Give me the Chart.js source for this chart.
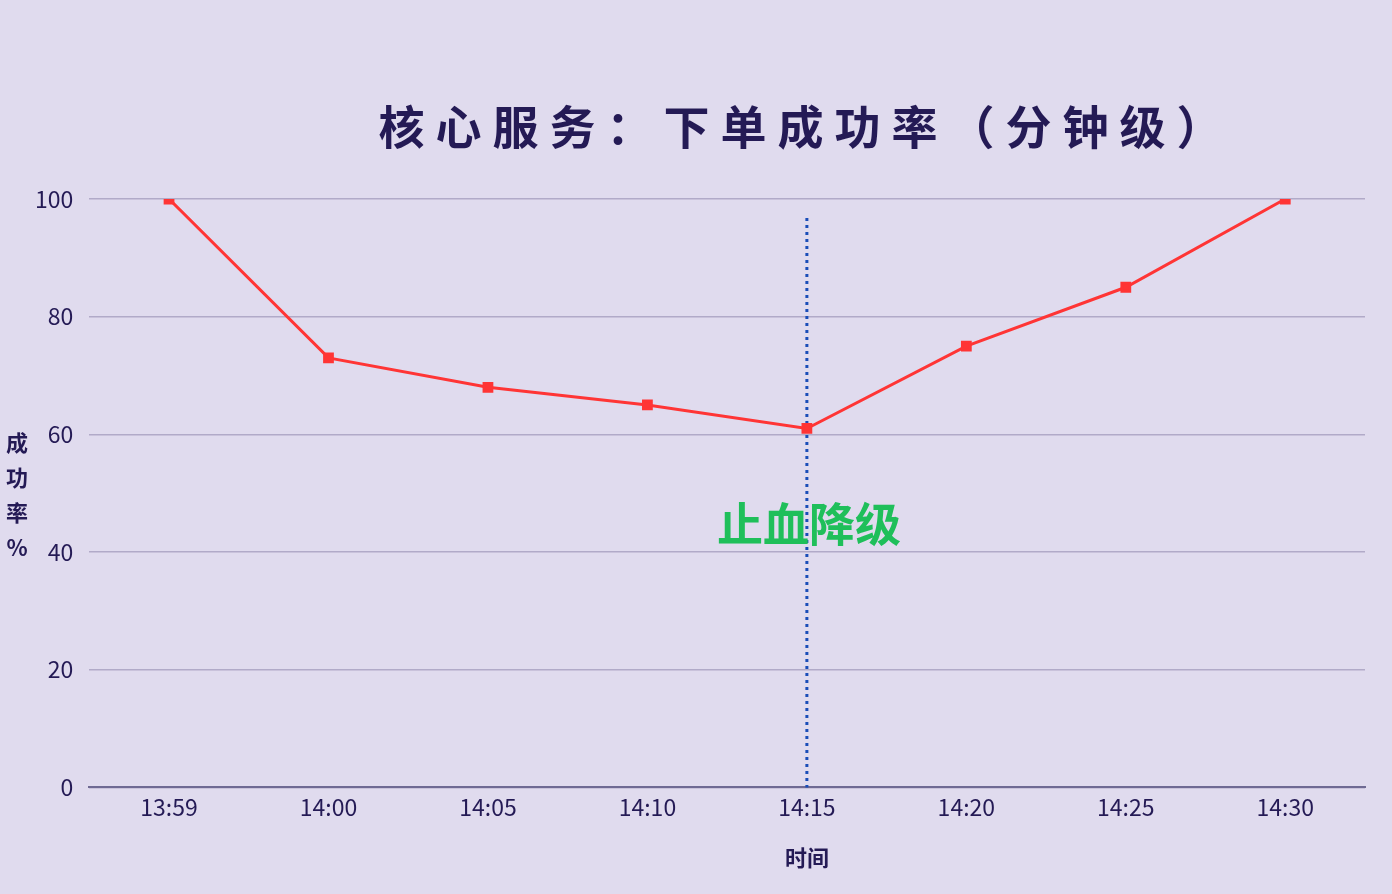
<!DOCTYPE html>
<html>
<head>
<meta charset="utf-8">
<script src="https://cdn.jsdelivr.net/npm/chart.js@4"></script>
<style>
  html, body { margin: 0; padding: 0; background: #e0dbee; }
  #wrap { width: 1392px; height: 894px; }
</style>
</head>
<body>
<div id="wrap"><canvas id="myChart" width="1392" height="894"></canvas></div>
<script>
// data
var times = ["13:59", "14:00", "14:05", "14:10", "14:15", "14:20", "14:25", "14:30"];
var successRate = [100, 73, 68, 65, 61, 75, 85, 100];
var yTicks = [0, 20, 40, 60, 80, 100];
var markTime = "14:15";
var markLabel = "止血降级";
var titleText = "核心服务：下单成功率（分钟级）";
var yTitle = ["成", "功", "率", "%"];
var xTitle = "时间";

var FONT = "'Noto Sans CJK SC', 'Noto Sans', sans-serif";
var INK = "#241a55";

// title, axis labels and the degradation marker
var extras = {
  id: "extras",
  beforeDatasetsDraw: function (chart) {
    var ctx = chart.ctx;
    var area = chart.chartArea;
    var x = chart.scales.x.getPixelForValue(times.indexOf(markTime));
    ctx.save();
    ctx.strokeStyle = "#1a4db8";
    ctx.lineWidth = 3;
    ctx.setLineDash([3, 4]);
    ctx.beginPath();
    ctx.moveTo(x, area.top + 19);
    ctx.lineTo(x, area.bottom);
    ctx.stroke();
    ctx.restore();
  },
  afterDraw: function (chart) {
    var ctx = chart.ctx;
    var area = chart.chartArea;
    var x = chart.scales.x.getPixelForValue(times.indexOf(markTime));
    ctx.save();
    ctx.textAlign = "center";
    ctx.textBaseline = "middle";

    ctx.fillStyle = "#1fbf5a";
    ctx.font = "bold 46px " + FONT;
    ctx.fillText(markLabel, x + 2, chart.scales.y.getPixelForValue(44.8));

    ctx.fillStyle = INK;
    ctx.font = "bold 22px " + FONT;
    ctx.fillText(xTitle, x, area.bottom + 70);

    var mid = chart.scales.y.getPixelForValue(49);
    for (var i = 0; i < yTitle.length; i++) {
      ctx.fillText(yTitle[i], 17, mid - 4 + (i - 1.5) * 35);
    }

    ctx.font = "bold 46px " + FONT;
    ctx.letterSpacing = "11px";
    ctx.fillText(titleText, 806, area.top - 72);
    ctx.restore();
  }
};

new Chart(document.getElementById("myChart"), {
  type: "line",
  data: {
    labels: times,
    datasets: [
      {
        label: "成功率",
        data: successRate,
        borderColor: "#ff3535",
        backgroundColor: "#ff3535",
        borderWidth: 3,
        pointStyle: "rect",
        pointRadius: 5.5,
        pointHoverRadius: 5.5,
        tension: 0,
      },
    ],
  },
  options: {
    responsive: false,
    animation: false,
    layout: { padding: { left: 19, right: 27, top: 199, bottom: 67 } },
    plugins: {
      legend: { display: false },
      tooltip: { enabled: false },
    },
    scales: {
      x: {
        offset: true,
        grid: { display: false, drawTicks: false },
        border: { display: true, color: "#6f6a93", width: 2 },
        ticks: { color: INK, font: { family: FONT, size: 23 }, padding: 6 },
      },
      y: {
        min: 0,
        max: 100,
        afterBuildTicks: function (axis) {
          axis.ticks = yTicks.map(function (v) { return { value: v }; });
        },
        grid: { color: "#b1aac8", lineWidth: 1.5, drawTicks: false },
        border: { display: false },
        ticks: { color: INK, font: { family: FONT, size: 23 }, padding: 16 },
      },
    },
  },
  plugins: [extras],
});
</script>
</body>
</html>
